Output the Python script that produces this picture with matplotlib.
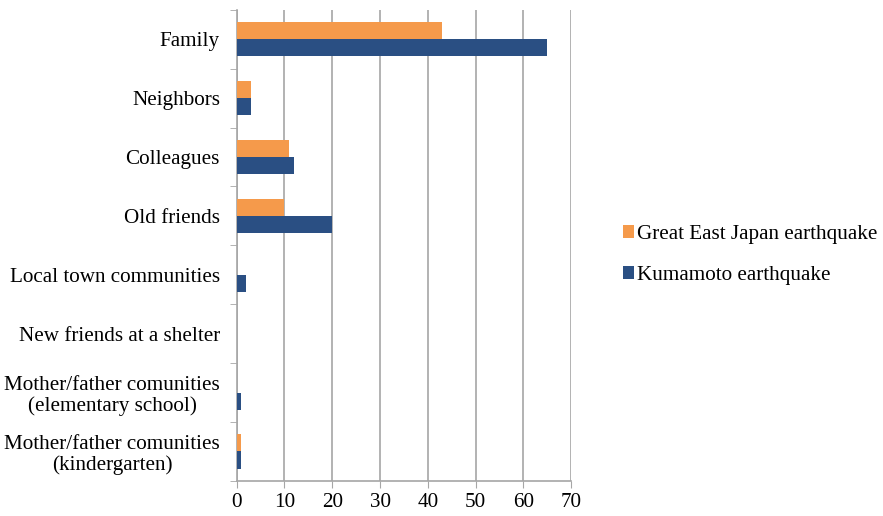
import matplotlib
matplotlib.use("Agg")
import matplotlib.pyplot as plt
import numpy as np

# ---------------------------------------------------------------------------
# Data
# ---------------------------------------------------------------------------
categories = [
    "Family",
    "Neighbors",
    "Colleagues",
    "Old friends",
    "Local town communities",
    "New friends at a shelter",
    "Mother/father comunities\n(elementary school)",
    "Mother/father comunities\n(kindergarten)",
]
great_east_japan = [43, 3, 11, 10, 0, 0, 0, 1]
kumamoto = [65, 3, 12, 20, 2, 0, 1, 1]
x_ticks = [0, 10, 20, 30, 40, 50, 60, 70]

ORANGE = "#F59A4B"
BLUE = "#2A4F83"
GRID = "#A6A6A6"
FS = 15.2

plt.rcParams["font.family"] = ["Liberation Serif", "DejaVu Serif"]

fig = plt.figure(figsize=(8.83, 5.16), dpi=100)
ax = fig.add_axes([0.268, 0.068, 0.379, 0.913])

y = np.arange(len(categories))
h = 0.29
ax.barh(y - h / 2, great_east_japan, height=h, color=ORANGE,
        label="Great East Japan earthquake", zorder=3)
ax.barh(y + h / 2, kumamoto, height=h, color=BLUE,
        label="Kumamoto earthquake", zorder=3)

ax.set_xlim(0, 70)
ax.set_ylim(len(categories) - 0.5, -0.5)
ax.set_xticks(x_ticks)
ax.tick_params(axis="x", labelsize=FS, length=5, color=GRID, pad=4)
ax.xaxis.grid(True, color=GRID, linewidth=1.2, zorder=0)

# category labels centred on the groups, ticks between groups
ax.set_yticks(y)
ax.set_yticklabels(categories, fontsize=FS, linespacing=1.1)
for lab in ax.get_yticklabels():
    lab.set_multialignment("center")
ax.tick_params(axis="y", length=0, pad=12)
ax.set_yticks(np.arange(-0.5, len(categories)), minor=True)
ax.tick_params(axis="y", which="minor", length=5, color=GRID)

for side in ("top", "right"):
    ax.spines[side].set_visible(False)
for side in ("left", "bottom"):
    ax.spines[side].set_color(GRID)
    ax.spines[side].set_linewidth(1.2)

ax.legend(loc="center left", bbox_to_anchor=(0.7055, 0.506),
          bbox_transform=fig.transFigure, frameon=False, borderpad=0,
          borderaxespad=0, fontsize=FS, handlelength=0.5, handleheight=0.6,
          handletextpad=0.15, labelspacing=1.05)

fig.savefig("out.png", dpi=100)
